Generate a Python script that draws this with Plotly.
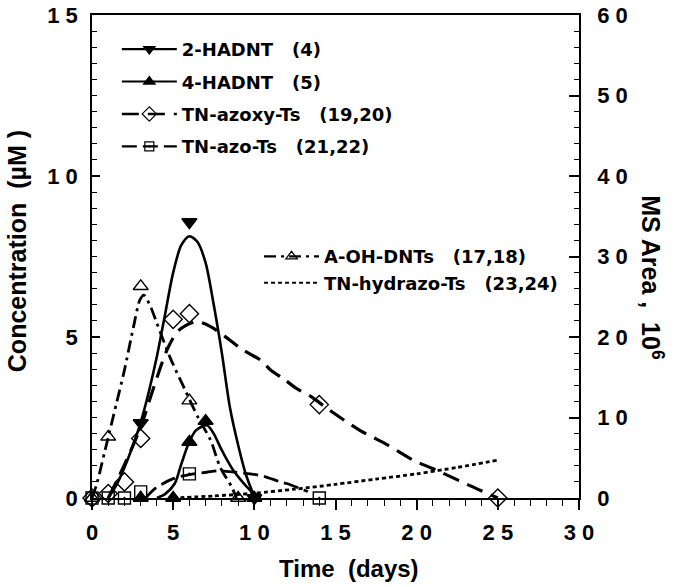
import plotly.graph_objects as go

# ---------------- data ----------------
# Concentration series (left axis, µM)
hadnt2_days = [3, 6, 10]
hadnt2_conc = [2.33, 8.57, 0.0]
hadnt2_fit_days = [1.0, 1.5, 2.0, 2.5, 3.0, 3.5, 4.0, 4.5, 5.0, 5.5, 6.0, 6.5, 7.0, 7.5, 8.0, 8.5, 9.0, 9.5, 10.0, 10.3]
hadnt2_fit_conc = [0.0, 0.4, 0.95, 1.6, 2.35, 3.3, 4.4, 5.7, 7.0, 7.85, 8.13, 7.95, 7.3, 6.0, 4.5, 2.8, 1.65, 0.7, 0.1, 0.0]

hadnt4_days = [3, 5, 6, 7, 10]
hadnt4_conc = [0.0, 0.0, 1.74, 2.39, 0.0]
hadnt4_fit_days = [4.0, 4.5, 5.1, 5.5, 5.95, 6.4, 7.08, 7.5, 7.9, 8.3, 8.7, 9.1, 9.55, 10.1, 10.4]
hadnt4_fit_conc = [0.0, 0.12, 0.45, 1.05, 1.69, 2.1, 2.26, 2.0, 1.58, 1.2, 0.86, 0.6, 0.34, 0.08, 0.0]

# MS-area series (right axis, 10^6)
azoxy_days = [0, 1, 2, 3, 5, 6, 14, 25]
azoxy_area = [0.0, 0.56, 2.0, 7.4, 22.2, 22.9, 11.6, 0.0]
azoxy_fit_days = [1.0, 1.83, 3.0, 3.6, 4.3, 4.71, 5.33, 6.36, 6.87, 7.7, 8.5, 9.3, 10.4, 11.0, 11.8, 12.6, 13.5, 14.5, 16.5, 18.2, 19.8, 21.5, 23.1, 25.0]
azoxy_fit_area = [0.0, 3.4, 8.8, 12.5, 16.7, 18.8, 20.8, 21.9, 21.7, 20.8, 19.6, 18.4, 17.1, 15.9, 14.8, 13.6, 12.6, 11.1, 8.4, 6.6, 4.7, 3.2, 1.7, 0.0]

azo_days = [0, 1, 2, 3, 6, 14]
azo_area = [0.0, 0.0, 0.0, 0.76, 3.0, 0.0]
azo_fit_days = [3.3, 3.9, 5.0, 6.0, 7.07, 7.9, 8.3, 9.75, 10.6, 11.6, 12.0, 13.05, 13.3]
azo_fit_area = [0.0, 1.2, 2.4, 2.9, 3.2, 3.4, 3.3, 3.0, 2.7, 2.0, 1.8, 1.0, 0.8]

aoh_days = [0, 1, 3, 6, 9]
aoh_area = [0.0, 7.6, 26.3, 12.1, 0.0]
aoh_fit_days = [0.0, 0.3, 0.8, 1.5, 2.0, 2.55, 2.95, 3.2, 3.6, 4.0, 4.8, 5.74, 6.56, 7.3, 7.9, 8.6, 8.9]
aoh_fit_area = [0.0, 1.8, 5.9, 11.7, 15.9, 21.2, 24.6, 25.2, 23.8, 21.7, 17.5, 13.4, 9.9, 7.2, 3.8, 1.4, 0.0]

hydrazo_fit_days = [5.0, 7.5, 10.0, 12.5, 15.0, 17.5, 20.0, 22.5, 25.0]
hydrazo_fit_area = [0.0, 0.25, 0.6, 1.1, 1.7, 2.35, 3.0, 3.8, 4.7]

x_ticks = [0, 5, 10, 15, 20, 25, 30]
x_ticktext = ["0", "5", "1 0", "1 5", "2 0", "2 5", "3 0"]
y_ticks = [0, 5, 10, 15]
y_ticktext = ["0", "5", "1 0", "1 5"]
y2_ticks = [0, 10, 20, 30, 40, 50, 60]
y2_ticktext = ["0", "1 0", "2 0", "3 0", "4 0", "5 0", "6 0"]

NB = "\u00a0"
names = {
    "h2": "2-HADNT" + NB * 3 + "(4)",
    "h4": "4-HADNT" + NB * 3 + "(5)",
    "azoxy": "TN-azoxy-Ts" + NB * 3 + "(19,20)",
    "azo": "TN-azo-Ts" + NB * 3 + "(21,22)",
    "aoh": "A-OH-DNTs" + NB * 3 + "(17,18)",
    "hydrazo": "TN-hydrazo-Ts" + NB * 3 + "(23,24)",
}

FONT = "Liberation Sans, Arial, Helvetica, sans-serif"
LFONT = "DejaVu Sans, Verdana, sans-serif"
BLACK = "black"

fig = go.Figure()

styles = {
    "h2": dict(dash="solid", width=2.6, symbol="triangle-down", size=13),
    "h4": dict(dash="solid", width=2.6, symbol="triangle-up", size=13),
    "azoxy": dict(dash="17px,9px", width=3.2, symbol="diamond-open", size=14),
    "azo": dict(dash="15px,6px", width=2.8, symbol="square-open-dot", size=12),
    "aoh": dict(dash="12px,5px,3px,5px", width=2.8, symbol="triangle-up-open", size=13),
    "hydrazo": dict(dash="4px,3px", width=2.8, symbol=None, size=0),
}

series = [
    ("h2", "y", hadnt2_fit_days, hadnt2_fit_conc, hadnt2_days, hadnt2_conc, "legend"),
    ("h4", "y", hadnt4_fit_days, hadnt4_fit_conc, hadnt4_days, hadnt4_conc, "legend"),
    ("azoxy", "y2", azoxy_fit_days, azoxy_fit_area, azoxy_days, azoxy_area, "legend"),
    ("azo", "y2", azo_fit_days, azo_fit_area, azo_days, azo_area, "legend"),
    ("aoh", "y2", aoh_fit_days, aoh_fit_area, aoh_days, aoh_area, "legend2"),
    ("hydrazo", "y2", hydrazo_fit_days, hydrazo_fit_area, None, None, "legend2"),
]

for key, yax, fx, fy, px_, py_, leg in series:
    st = styles[key]
    fig.add_trace(go.Scatter(
        x=fx, y=fy, yaxis=yax, mode="lines", showlegend=False,
        line=dict(color=BLACK, width=st["width"], dash=st["dash"], shape="spline", smoothing=0.8),
        hoverinfo="skip"))
    if px_ is not None:
        fig.add_trace(go.Scatter(
            x=px_, y=py_, yaxis=yax, mode="markers", showlegend=False,
            marker=dict(symbol=st["symbol"], size=st["size"], color=BLACK,
                        line=dict(color=BLACK, width=1.4)),
            cliponaxis=False))

# legend-only entries (line + marker sample)
for key, yax, fx, fy, px_, py_, leg in series:
    st = styles[key]
    mk = dict(size=0)
    mode = "lines"
    if st["symbol"]:
        mode = "lines+markers"
        mk = dict(symbol=st["symbol"], size=st["size"] - 3, color=BLACK,
                  line=dict(color=BLACK, width=1.2))
    fig.add_trace(go.Scatter(
        x=[None], y=[None], yaxis=yax, mode=mode, name=names[key], legend=leg,
        legendgroup=key, showlegend=True,
        line=dict(color=BLACK, width=st["width"] * 0.8, dash=st["dash"]), marker=mk))

axis_common = dict(showgrid=False, zeroline=False, showline=True, linecolor=BLACK, linewidth=1.5,
                   tickcolor=BLACK, tickwidth=1.5, automargin=False, ticklabeloverflow="allow",
                   tickfont=dict(family=FONT, size=22, color=BLACK, weight="bold"))

fig.update_layout(
    width=676, height=587,
    margin=dict(l=92, r=97, t=15, b=89),
    paper_bgcolor="white", plot_bgcolor="white",
    font=dict(family=FONT, color=BLACK),
    xaxis=dict(range=[0, 30], tickvals=x_ticks, ticktext=x_ticktext, ticks="outside", ticklen=10,
               mirror=True, ticklabelstandoff=4,
               minor=dict(dtick=1, tick0=0, ticks="outside", ticklen=6, tickcolor=BLACK, tickwidth=1.2),
               **axis_common),
    yaxis=dict(range=[0, 15], tickvals=y_ticks, ticktext=y_ticktext, ticks="inside", ticklen=8,
               ticklabelstandoff=8,
               minor=dict(dtick=0.5, tick0=0, ticks="inside", ticklen=5, tickcolor=BLACK, tickwidth=1.2),
               **axis_common),
    yaxis2=dict(range=[0, 60], overlaying="y", side="right", tickvals=y2_ticks, ticktext=y2_ticktext,
                ticks="inside", ticklen=10, ticklabelstandoff=12,
                minor=dict(dtick=2, tick0=0, ticks="inside", ticklen=5, tickcolor=BLACK, tickwidth=1.2),
                **axis_common),
    legend=dict(x=0.051, y=0.967, xanchor="left", yanchor="top", bgcolor="rgba(0,0,0,0)",
                font=dict(family=LFONT, size=18, color=BLACK, weight="bold"),
                tracegroupgap=6, itemwidth=55, traceorder="grouped"),
    legend2=dict(x=0.343, y=0.538, xanchor="left", yanchor="top", bgcolor="rgba(0,0,0,0)",
                 font=dict(family=LFONT, size=18, color=BLACK, weight="bold"),
                 tracegroupgap=0, itemwidth=55, traceorder="grouped"),
    showlegend=True,
    annotations=[
        dict(text="Concentration" + NB * 2 + "(µM" + NB + ")", xref="paper", yref="paper",
             x=-0.154, y=0.511, textangle=-90, showarrow=False, xanchor="center", yanchor="middle",
             font=dict(family=FONT, size=25, color=BLACK, weight="bold")),
        dict(text="MS Area ," + NB * 2 + "10<sup>6</sup>", xref="paper", yref="paper",
             x=1.15, y=0.457, textangle=90, showarrow=False, xanchor="center", yanchor="middle",
             font=dict(family=FONT, size=25, color=BLACK, weight="bold")),
        dict(text="Time" + NB * 2 + "(days)", xref="paper", yref="paper",
             x=0.528, y=-0.146, showarrow=False, xanchor="center", yanchor="middle",
             font=dict(family=FONT, size=24, color=BLACK, weight="bold")),
    ],
)

# remove the page's default 8px body margin so the figure fills the window exactly
fig.write_html("out.html",
               config={"displayModeBar": False},
               post_script="document.body.style.margin='0';document.body.style.overflow='hidden';")
